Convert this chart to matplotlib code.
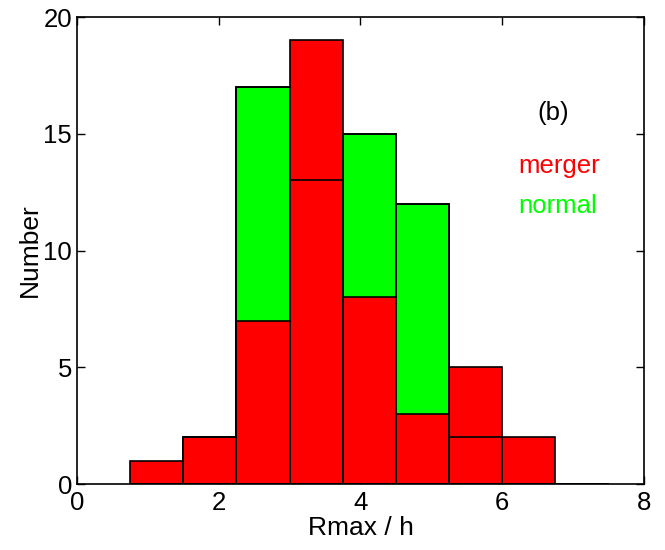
import numpy as np
import matplotlib
matplotlib.use("Agg")
import matplotlib.pyplot as plt

plt.rcParams['font.family'] = ['Liberation Sans', 'DejaVu Sans']

# bin centres (width 0.75)
centers = [1.125, 1.875, 2.625, 3.375, 4.125, 4.875, 5.625, 6.375, 7.125]
width = 0.75
merger = [1, 2, 7, 19, 8, 3, 5, 2, 0]
normal = [0, 2, 17, 13, 15, 12, 2, 0, 0]

fig = plt.figure(figsize=(6.65, 5.5), dpi=100)
ax = fig.add_axes([0.1158, 0.12, 0.8526, 0.849])

ax.bar(centers, normal, width=width, color='#00ff00', edgecolor='black', linewidth=1.2, zorder=2)
ax.bar(centers, merger, width=width, color='#ff0000', edgecolor='black', linewidth=1.2, zorder=3)
# normal outlines stay visible on top
ax.bar(centers, normal, width=width, fill=False, edgecolor='black', linewidth=1.2, zorder=4)

ax.set_xlim(0, 8)
ax.set_ylim(0, 20)
ax.set_xticks([0, 2, 4, 6, 8])
ax.set_yticks([0, 5, 10, 15, 20])
ax.tick_params(direction='in', top=True, right=True, length=6, labelsize=18.5, width=1)
ax.tick_params(axis='x', pad=5)
for s in ax.spines.values():
    s.set_linewidth(1.2)
    s.set_zorder(5)

ax.set_xlabel('Rmax / h', fontsize=19, labelpad=1)
ax.set_ylabel('Number', fontsize=19, labelpad=1)

ax.text(6.5, 15.9, '(b)', fontsize=18.5, va='center', ha='left')
ax.text(6.22, 13.6, 'merger', fontsize=18.5, color='#ff0000', va='center', ha='left')
ax.text(6.22, 11.9, 'normal', fontsize=18.5, color='#00ff00', va='center', ha='left')

fig.savefig('out.png', dpi=100)
